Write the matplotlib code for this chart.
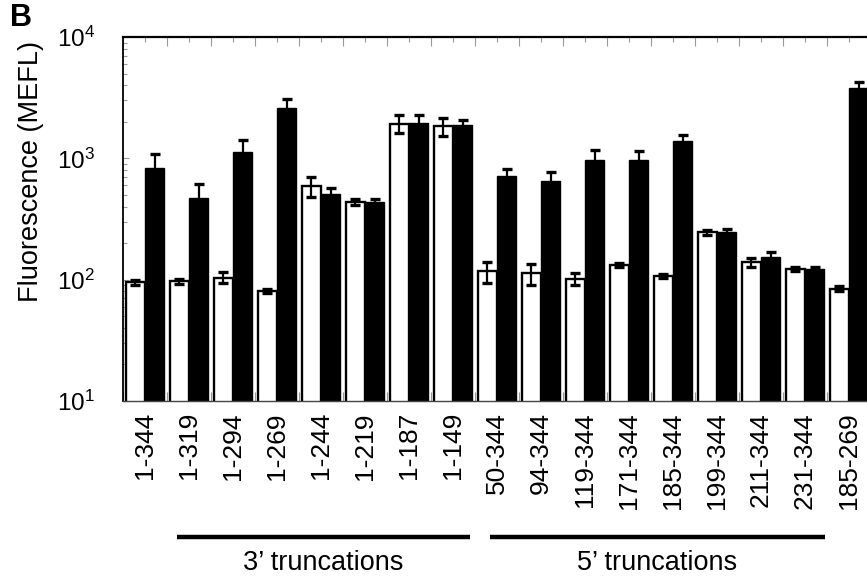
import numpy as np
import matplotlib
matplotlib.use("Agg")
import matplotlib.pyplot as plt
from matplotlib.ticker import LogLocator, FixedLocator, LogFormatterMathtext

plt.rcParams['font.family'] = ['Liberation Sans', 'DejaVu Sans']
plt.rcParams['mathtext.fontset'] = 'custom'
plt.rcParams['mathtext.rm'] = 'Liberation Sans'
plt.rcParams['mathtext.default'] = 'regular'

labels = ['1-344', '1-319', '1-294', '1-269', '1-244', '1-219', '1-187', '1-149',
          '50-344', '94-344', '119-344', '171-344', '185-344', '199-344', '211-344',
          '231-344', '185-269']
white = [95, 97, 104, 81, 590, 439, 1936, 1837, 117, 113, 102, 133, 107, 246, 139, 122, 84]
white_err = [4, 5, 11, 3, 110, 25, 330, 300, 23, 22, 12, 5, 4, 12, 12, 4, 4]
black = [826, 468, 1122, 2606, 507, 433, 1958, 1875, 720, 649, 962, 975, 1390, 245, 155, 122, 3811]
black_err = [250, 150, 290, 470, 66, 25, 300, 200, 100, 120, 220, 170, 160, 15, 13, 4, 420]

groups = ["3\u2019 truncations", "5\u2019 truncations"]
group_spans = [(0.73, 7.39), (7.84, 15.45)]

fig = plt.figure(figsize=(8.67, 5.83), dpi=100)
# axes runs a little past the right edge, as in the cropped original
ax = fig.add_axes([123/867, 182/583, 748/867, 364/583])

x = np.arange(len(labels))
w = 0.44
ax.bar(x - w/2, white, w, color='white', edgecolor='black', linewidth=1.7, zorder=2)
ax.bar(x + w/2, black, w, color='black', edgecolor='black', linewidth=1.0, zorder=2)
ax.errorbar(x - w/2, white, yerr=white_err, fmt='none', ecolor='black',
            elinewidth=1.6, capsize=3.3, capthick=2.4, zorder=3)
ax.errorbar(x + w/2, black, yerr=black_err, fmt='none', ecolor='black',
            elinewidth=1.6, capsize=3.3, capthick=2.4, zorder=3)

ax.set_yscale('log')
ax.set_ylim(10, 1e4)
ax.set_xlim(-0.5, 16.5)
ax.yaxis.set_major_locator(LogLocator(base=10))
ax.yaxis.set_major_formatter(LogFormatterMathtext())
ax.yaxis.set_minor_locator(LogLocator(base=10, subs=np.arange(2, 10)))

ax.set_xticks(x)
ax.set_xticklabels(labels, rotation=90, fontsize=19)
ax.xaxis.set_minor_locator(FixedLocator(np.arange(-0.5, 17, 1.0)))

tc = '#999999'
ax.tick_params(axis='x', which='major', bottom=False, top=True, direction='in',
               length=3.6, width=0.8, color=tc, pad=8, labelsize=19)
ax.tick_params(axis='x', which='minor', bottom=True, top=True, direction='in',
               length=6.5, width=0.8, color=tc)
ax.tick_params(axis='y', which='major', left=True, right=False, direction='in',
               length=4.5, width=0.8, color=tc, pad=20, labelsize=17.5)
ax.tick_params(axis='y', which='minor', left=True, right=False, direction='in',
               length=3.0, width=0.8, color=tc)

ax.spines['left'].set_linewidth(1.3)
ax.spines['top'].set_linewidth(1.6)
ax.spines['bottom'].set_color('#444444')
ax.spines['bottom'].set_linewidth(1.0)
ax.spines['right'].set_visible(False)

trans = ax.get_xaxis_transform()
for name, (x0, x1) in zip(groups, group_spans):
    ax.plot([x0, x1], [-0.374, -0.374], color='black', lw=3.2, transform=trans,
            clip_on=False, solid_capstyle='butt')
    ax.text((x0 + x1)/2, -0.445, name, transform=trans, ha='center', va='center',
            fontsize=19.5)

fig.text(31/867, 1 - 172/583, 'Fluorescence (MEFL)', rotation=90, ha='center',
         va='center', fontsize=19.5)
fig.text(10/867, 1 - 3/583, 'B', fontsize=22, fontweight='bold', ha='left', va='top')

fig.savefig('out.png', dpi=100)
